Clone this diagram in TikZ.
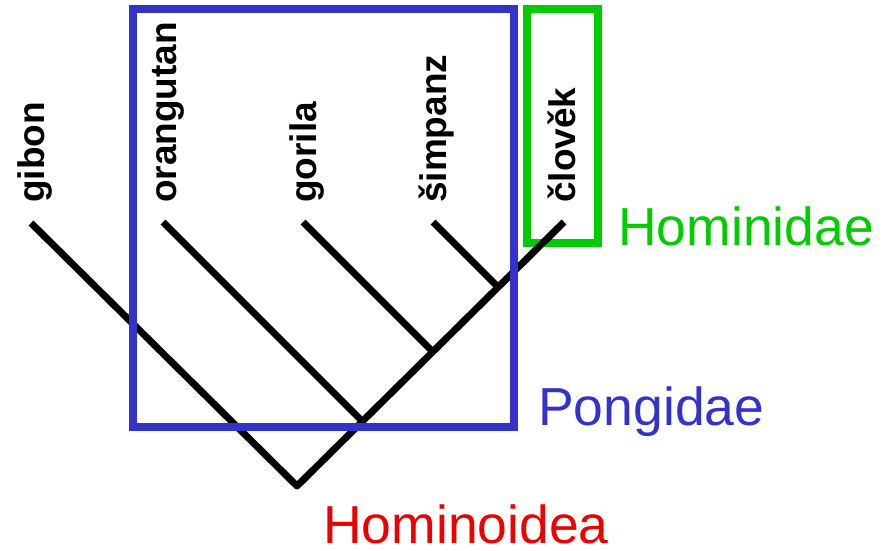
\documentclass[tikz,border=0pt]{standalone}
\usepackage{fontspec}
\setmainfont{Liberation Sans}
\definecolor{pblue}{RGB}{51,51,204}
\definecolor{hgreen}{RGB}{0,204,0}
\definecolor{hred}{RGB}{238,0,0}
\begin{document}
\begin{tikzpicture}[x=1pt,y=-1pt,
  taxon/.style={rotate=90,anchor=base west,inner sep=0pt,font=\fontsize{37}{40}\selectfont\bfseries},
  group/.style={anchor=base west,inner sep=0pt,font=\fontsize{53.5}{56}\selectfont},
  branch/.style={line width=7pt,black,line join=round,line cap=butt},
  frame/.style={line width=8pt}]
\useasboundingbox (0,0) rectangle (884,550);
% green box (below tree)
\draw[frame,hgreen] (527,8.5) rectangle (598,243);
% tips and joins
\coordinate (tgibon) at (31,223);
\coordinate (torang) at (163,222);
\coordinate (tgor) at (303,222);
\coordinate (tsim) at (433,222);
\coordinate (tclo) at (564,222);
\coordinate (root) at (297,486);
\coordinate (j1) at (362,421);
\coordinate (j2) at (432,351);
\coordinate (j3) at (497,286);
% tree
\draw[branch] (tgibon) -- (root) -- (tclo);
\draw[branch] (torang) -- (j1);
\draw[branch] (tgor) -- (j2);
\draw[branch] (tsim) -- (j3);
% blue box (on top)
\draw[frame,pblue] (132.5,9) rectangle (514,427);
% labels
\node[taxon] (gibon) at (44,203) {gibon};
\node[taxon] (orangutan) at (176,203) {orangutan};
\node[taxon] (gorila) at (316,203) {gorila};
\node[taxon] (simpanz) at (446,203) {šimpanz};
\node[taxon] (clovek) at (575,203) {člověk};
\node[group,text=hgreen] (hominidae) at (618,245) {Hominidae};
\node[group,text=pblue] (pongidae) at (538,425) {Pongidae};
\node[group,text=hred] (hominoidea) at (323,543) {Hominoidea};
\end{tikzpicture}
\end{document}
